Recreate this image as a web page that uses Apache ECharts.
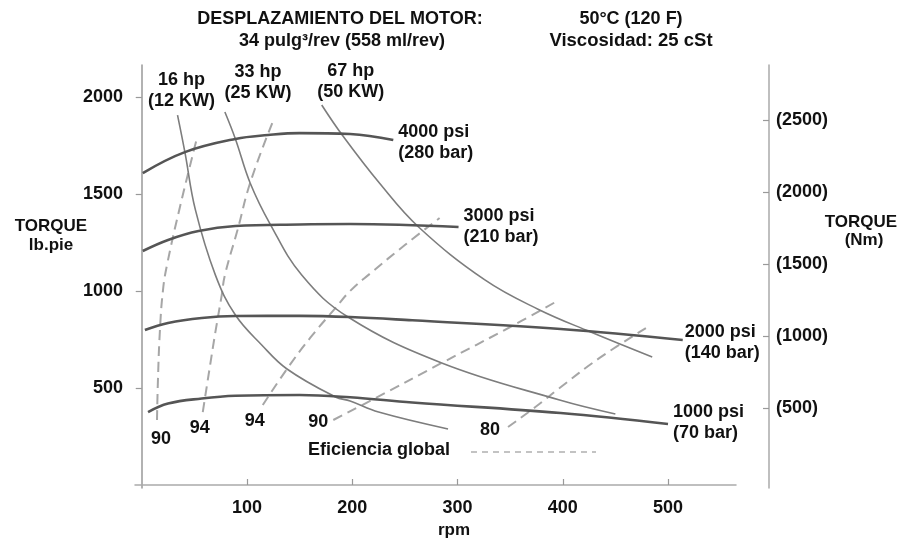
<!DOCTYPE html>
<html>
<head>
<meta charset="utf-8">
<script src="https://cdn.jsdelivr.net/npm/echarts@6/dist/echarts.min.js"></script>
<style>html,body{margin:0;padding:0;background:#fff;}#c{width:902px;height:539px;}</style>
</head>
<body>
<div id="c"></div>
<script>
// ---- data (rpm, torque lb-ft) ----
const rpmTicks = [100, 200, 300, 400, 500];
const torqueTicks = [500, 1000, 1500, 2000];
const nmTicks = [500, 1000, 1500, 2000, 2500];

const pressureNames = ['4000 psi\n(280 bar)', '3000 psi\n(210 bar)', '2000 psi\n(140 bar)', '1000 psi\n(70 bar)'];
const p4000 = [[1,1608],[41,1716],[89,1784],[120,1804],[150,1814],[198,1809],[239,1778]];
const p3000 = [[1,1206],[25,1263],[54,1309],[89,1335],[150,1343],[198,1345],[301,1330]];
const p2000 = [[3,799],[25,835],[57,861],[89,871],[150,872],[198,866],[257,849],[398,804],[514,747]];
const p1000 = [[6,376],[25,420],[57,446],[89,460],[150,464],[198,452],[257,425],[398,371],[500,314]];

const hpNames = ['16 hp\n(12 KW)', '33 hp\n(25 KW)', '67 hp\n(50 KW)'];
const hp16 = [[34,1907],[41,1716],[51,1418],[70,1082],[89,876],[114,722],[138,598],[184,454],[198,433],[225,376],[291,289]];
const hp33 = [[79,1923],[89,1784],[103,1557],[122,1345],[152,1082],[196,866],[285,629],[397,438],[450,366]];
const hp67 = [[171,1959],[191,1800],[226,1555],[263,1330],[326,1057],[377,905],[426,790],[485,660]];

const effNames = ['90', '94', '94', '90', '80'];
const eff90a = [[14.5,335],[15.4,541],[17.3,799],[20.2,1005],[24,1134],[36.3,1433],[52.5,1789]];
const eff94a = [[58,376],[65,619],[70,789],[76,979],[79,1082],[91,1314],[103,1557],[124,1866]];
const eff94b = [[115,412],[138,598],[160,758],[184,912],[198,1000],[217,1090],[250,1237],[283,1376]];
const eff90b = [[182,335],[222,448],[285,629],[352,820],[393,943]];
const eff80 = [[348,299],[374,402],[397,500],[435,655],[479,809]];

// ---- styling ----
const FONT = "'Liberation Sans', Arial, sans-serif";
const TXT = '#111';

function withLabel(data, idx, label) {
  return data.map((d, i) => i === idx ? { value: d, label: Object.assign({ show: true }, label) } : d);
}

function pressureSeries(data, name, offset) {
  return {
    type: 'line', name: name, data: withLabel(data, data.length - 1, {
      formatter: name, position: 'right', distance: 5, offset: offset,
      fontFamily: FONT, fontSize: 18, fontWeight: 'bold', lineHeight: 21, color: TXT, align: 'left', verticalAlign: 'middle'
    }),
    smooth: 0.4, symbol: 'circle', symbolSize: 0, showSymbol: true,
    lineStyle: { color: '#555', width: 2.6 }, z: 3
  };
}
function hpSeries(data, name, offset) {
  return {
    type: 'line', name: name, data: withLabel(data, 0, {
      formatter: name, position: 'top', distance: 5, offset: offset,
      fontFamily: FONT, fontSize: 18, fontWeight: 'bold', lineHeight: 21, color: TXT, align: 'center'
    }),
    smooth: 0.4, symbol: 'circle', symbolSize: 0, showSymbol: true,
    lineStyle: { color: '#7d7d7d', width: 1.6 }, z: 2
  };
}
function effSeries(data, name, position, offset) {
  return {
    type: 'line', name: 'eff' + name, data: withLabel(data, 0, {
      formatter: name, position: position, distance: 5, offset: offset,
      fontFamily: FONT, fontSize: 18, fontWeight: 'bold', color: TXT
    }),
    smooth: 0.45, symbol: 'circle', symbolSize: 0, showSymbol: true,
    lineStyle: { color: '#a6a6a6', width: 2, type: [10, 6] }, z: 1
  };
}

const labelStyle = { fontFamily: FONT, fontSize: 18, fontWeight: 'bold', color: TXT };
const center = { textAlign: 'center', textVerticalAlign: 'middle', align: 'center', verticalAlign: 'middle', fill: TXT };
function txt(x, y, text, font, extra) {
  return { type: 'text', x: x, y: y, style: Object.assign({ text: text, font: font }, center, extra || {}) };
}

const chart = echarts.init(document.getElementById('c'), null, { renderer: 'canvas' });
chart.setOption({
  animation: false,
  backgroundColor: '#fff',
  grid: { left: 135, right: 166, top: 65, bottom: 51 },
  xAxis: {
    type: 'value', min: -6.4, max: 564.6,
    axisLine: { show: true, lineStyle: { color: '#aaa', width: 1.5 } },
    axisTick: { show: true, inside: true, length: 6, customValues: rpmTicks, lineStyle: { color: '#999', width: 1.2 } },
    axisLabel: Object.assign({ customValues: rpmTicks, margin: 11, formatter: v => String(v) }, labelStyle),
    splitLine: { show: false }
  },
  yAxis: [{
    type: 'value', min: -15.5, max: 2165, position: 'left',
    axisLine: { show: true, lineStyle: { color: '#999', width: 1.5 } },
    axisTick: { show: true, inside: false, length: 6, customValues: torqueTicks, lineStyle: { color: '#999', width: 1.2 } },
    axisLabel: Object.assign({ customValues: torqueTicks, margin: 12, formatter: v => String(v) }, labelStyle),
    splitLine: { show: false }
  }, {
    type: 'value', min: -55.6, max: 2882, position: 'right', offset: 33,
    axisLine: { show: true, lineStyle: { color: '#aaa', width: 1.5 } },
    axisTick: { show: true, inside: true, length: 6, customValues: nmTicks, lineStyle: { color: '#999', width: 1.2 } },
    axisLabel: Object.assign({ customValues: nmTicks, margin: 7, formatter: v => '(' + v + ')' }, labelStyle),
    splitLine: { show: false }
  }],
  graphic: [
    txt(340, 19, 'DESPLAZAMIENTO DEL MOTOR:', 'bold 18px ' + FONT),
    txt(342, 41, '34 pulg³/rev (558 ml/rev)', 'bold 18px ' + FONT),
    txt(631, 19, '50°C (120 F)', 'bold 18px ' + FONT),
    txt(631, 41, 'Viscosidad: 25 cSt', 'bold 18.5px ' + FONT),
    txt(51, 226, 'TORQUE', 'bold 17px ' + FONT),
    txt(51, 245, 'lb.pie', 'bold 17px ' + FONT),
    txt(861, 222, 'TORQUE', 'bold 17px ' + FONT),
    txt(864, 240, '(Nm)', 'bold 17px ' + FONT),
    txt(454, 530, 'rpm', 'bold 17px ' + FONT),
    txt(308, 450, 'Eficiencia global', 'bold 18px ' + FONT, { textAlign: 'left', align: 'left' }),
    { type: 'line', shape: { x1: 471, y1: 452, x2: 596, y2: 452 }, style: { stroke: '#b0b0b0', lineWidth: 1.5, lineDash: [6, 5] } }
  ],
  series: [
    effSeries(eff90a, effNames[0], 'bottom', [4, 5]),
    effSeries(eff94a, effNames[1], 'bottom', [-3, 2]),
    effSeries(eff94b, effNames[2], 'bottom', [-8, 2]),
    effSeries(eff90b, effNames[3], 'left', [0, 2]),
    effSeries(eff80, effNames[4], 'left', [-3, 3]),
    hpSeries(hp16, hpNames[0], [4, 1]),
    hpSeries(hp33, hpNames[1], [33, -3]),
    hpSeries(hp67, hpNames[2], [29, 3]),
    pressureSeries(p4000, pressureNames[0], [0, 2]),
    pressureSeries(p3000, pressureNames[1], [0, 0]),
    pressureSeries(p2000, pressureNames[2], [-3, 2]),
    pressureSeries(p1000, pressureNames[3], [0, -2])
  ]
});
</script>
</body>
</html>
